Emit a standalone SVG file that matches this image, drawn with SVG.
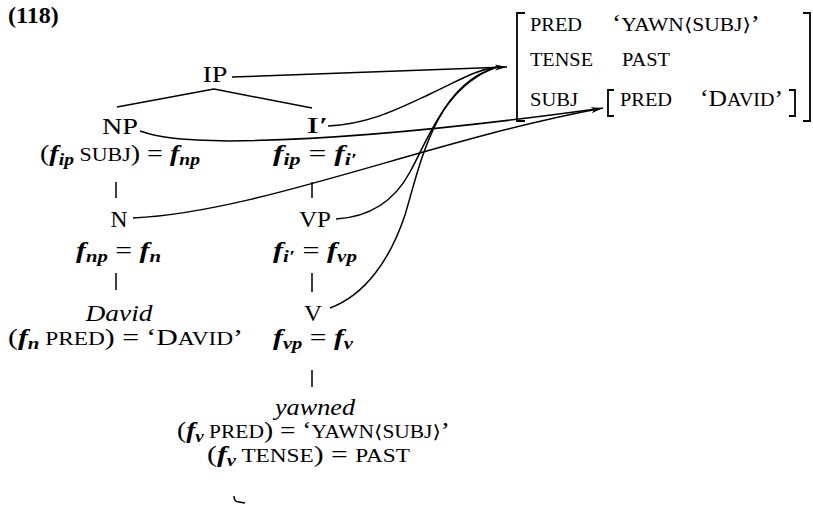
<svg xmlns="http://www.w3.org/2000/svg" width="813" height="508" viewBox="0 0 813 508">
<style>
text{font-family:'Liberation Serif','DejaVu Serif',serif;font-size:23px;fill:#000}
.sc{font-size:18px}
.f{font-style:italic;font-weight:bold}
.sub{font-size:16px;font-style:italic;font-weight:bold}
.it{font-style:italic}
.ln{stroke:#000;stroke-width:1.5;fill:none}
.br{stroke:#000;stroke-width:1.8;fill:none}
</style>
<defs>
<marker id="arr" markerUnits="userSpaceOnUse" markerWidth="14" markerHeight="10" refX="12" refY="4" orient="auto">
<path d="M0,1 L12,4 L0,7 L3,4 Z" fill="#000"/>
</marker>
</defs>
<rect width="813" height="508" fill="#fff"/>
<text x="8" y="23" font-weight="bold" style="font-size:24px">(118)</text>

<g id="tree-lines">
<path class="ln" d="M214,89 L117,107 M214,89 L312,108"/>
<path class="ln" d="M116,182 V198 M312,182 V198 M116,273 V290 M312,273 V292 M312,370 V387"/>
</g>

<g id="IP"><text x="215" y="82" text-anchor="middle" textLength="25" lengthAdjust="spacingAndGlyphs">IP</text></g>
<g id="NP"><text x="120" y="134" text-anchor="middle" textLength="36" lengthAdjust="spacingAndGlyphs">NP</text>
<text x="40" y="161" textLength="160" lengthAdjust="spacingAndGlyphs">(<tspan class="f">f</tspan><tspan class="sub" dy="4">ip</tspan><tspan class="sc" dy="-4"> SUBJ</tspan>) = <tspan class="f">f</tspan><tspan class="sub" dy="4">np</tspan></text></g>
<g id="Ibar"><text x="317" y="133" text-anchor="middle" textLength="22" lengthAdjust="spacingAndGlyphs">I′</text>
<text x="273" y="161" textLength="84" lengthAdjust="spacingAndGlyphs"><tspan class="f">f</tspan><tspan class="sub" dy="4">ip</tspan><tspan dy="-4"> = </tspan><tspan class="f">f</tspan><tspan class="sub" dy="4">i′</tspan></text></g>
<g id="N"><text x="119" y="227" text-anchor="middle" textLength="17" lengthAdjust="spacingAndGlyphs">N</text>
<text x="76" y="258" textLength="85" lengthAdjust="spacingAndGlyphs"><tspan class="f">f</tspan><tspan class="sub" dy="4">np</tspan><tspan dy="-4"> = </tspan><tspan class="f">f</tspan><tspan class="sub" dy="4">n</tspan></text></g>
<g id="VP"><text x="315" y="227" text-anchor="middle" textLength="32" lengthAdjust="spacingAndGlyphs">VP</text>
<text x="273" y="258" textLength="84" lengthAdjust="spacingAndGlyphs"><tspan class="f">f</tspan><tspan class="sub" dy="4">i′</tspan><tspan dy="-4"> = </tspan><tspan class="f">f</tspan><tspan class="sub" dy="4">vp</tspan></text></g>
<g id="David"><text x="119" y="321" text-anchor="middle" class="it" textLength="67" lengthAdjust="spacingAndGlyphs">David</text>
<text x="8" y="345" textLength="235" lengthAdjust="spacingAndGlyphs">(<tspan class="f">f</tspan><tspan class="sub" dy="4">n</tspan><tspan class="sc" dy="-4"> PRED</tspan>) = ‘D<tspan class="sc">AVID</tspan>’</text></g>
<g id="V"><text x="313" y="321" text-anchor="middle" textLength="18" lengthAdjust="spacingAndGlyphs">V</text>
<text x="273" y="345" textLength="80" lengthAdjust="spacingAndGlyphs"><tspan class="f">f</tspan><tspan class="sub" dy="4">vp</tspan><tspan dy="-4"> = </tspan><tspan class="f">f</tspan><tspan class="sub" dy="4">v</tspan></text></g>
<g id="yawned"><text x="315" y="415" text-anchor="middle" class="it" textLength="80" lengthAdjust="spacingAndGlyphs">yawned</text>
<text x="177" y="438" textLength="273" lengthAdjust="spacingAndGlyphs">(<tspan class="f">f</tspan><tspan class="sub" dy="4">v</tspan><tspan class="sc" dy="-4"> PRED</tspan>) = ‘<tspan class="sc">YAWN⟨SUBJ⟩</tspan>’</text>
<text x="207" y="462" textLength="203" lengthAdjust="spacingAndGlyphs">(<tspan class="f">f</tspan><tspan class="sub" dy="4">v</tspan><tspan class="sc" dy="-4"> TENSE</tspan>) = <tspan class="sc">PAST</tspan></text>
<path class="ln" d="M234,496 Q234,502 239,502 L245,503" stroke-width="1.2"/></g>

<g id="fstructure">
<path class="br" d="M525,13 H517 V121 H525"/>
<path class="br" d="M803,13 H810 V121 H803"/>
<text class="sc" x="530" y="31" textLength="52" lengthAdjust="spacingAndGlyphs">PRED</text>
<text x="612" y="31" textLength="148" lengthAdjust="spacingAndGlyphs">‘<tspan class="sc">YAWN⟨SUBJ⟩</tspan>’</text>
<text class="sc" x="530" y="66" textLength="63" lengthAdjust="spacingAndGlyphs">TENSE</text>
<text class="sc" x="622" y="66" textLength="48" lengthAdjust="spacingAndGlyphs">PAST</text>
<text class="sc" x="530" y="106" textLength="48" lengthAdjust="spacingAndGlyphs">SUBJ</text>
<path class="br" d="M614,90 H608 V116 H614"/>
<text class="sc" x="620" y="106" textLength="52" lengthAdjust="spacingAndGlyphs">PRED</text>
<text x="700" y="106" textLength="83" lengthAdjust="spacingAndGlyphs">‘D<tspan class="sc">AVID</tspan>’</text>
<path class="br" d="M789,90 H795 V116 H789"/>
</g>

<g id="connectors">
<path class="ln" d="M232,77 L507,67" marker-end="url(#arr)"/>
<path class="ln" d="M328,126 C370,124 400,108 430,94 S475,70 497,67"/>
<path class="ln" d="M336,219 C370,217 395,200 410,172 C428,140 445,85 497,67"/>
<path class="ln" d="M330,308 C365,295 390,260 405,215 C420,165 435,85 497,67"/>
<path class="ln" d="M140,131 C160,138 180,140 230,141 C350,140 480,125 596,109"/>
<path class="ln" d="M133,218 C260,212 430,140 603,108" marker-end="url(#arr)"/>
</g>
</svg>
